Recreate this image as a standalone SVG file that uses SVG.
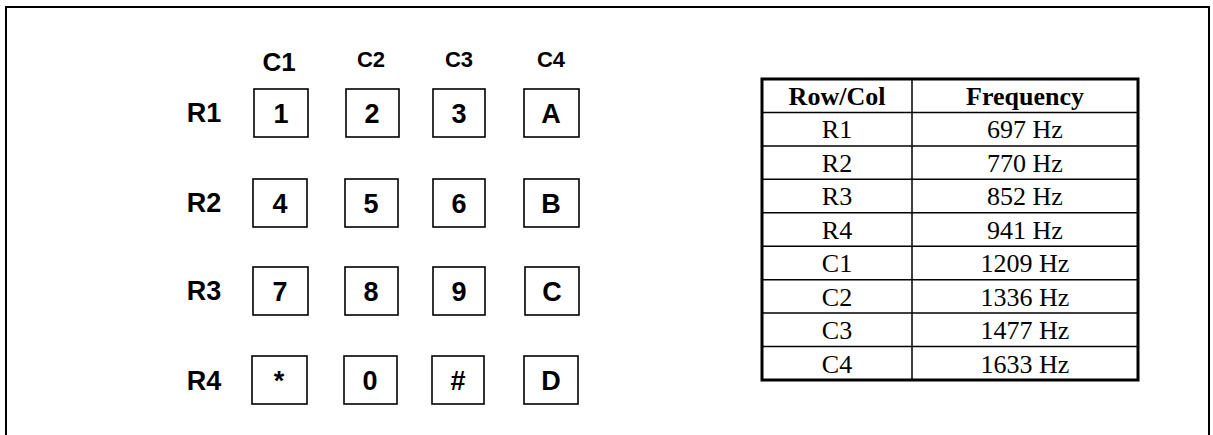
<svg xmlns="http://www.w3.org/2000/svg" width="1213" height="435" viewBox="0 0 1213 435">
<style>
.key rect{fill:#fff;stroke:#000;stroke-width:1.6}
.key text,.lbl{font-family:"Liberation Sans",Arial,sans-serif;font-weight:bold;text-anchor:middle;fill:#000}
.key text{font-size:27px}
.rl{font-size:27px}
.c1{font-size:26px}
.cl{font-size:22px}
.tl{stroke:#000;stroke-width:1.5}
.tt{font-family:"Liberation Serif","Times New Roman",serif;font-size:26px;text-anchor:middle;fill:#000}
.th{font-weight:bold}
</style>
<rect x="6" y="7" width="1203" height="440" fill="#fff" stroke="#000" stroke-width="2"/>
<g id="col-labels">
<text class="lbl c1" x="279" y="71">C1</text>
<text class="lbl cl" x="371" y="67">C2</text>
<text class="lbl cl" x="459" y="67">C3</text>
<text class="lbl cl" x="551" y="67">C4</text>
</g>
<g id="row-labels">
<text class="lbl rl" x="204" y="122">R1</text>
<text class="lbl rl" x="204" y="212">R2</text>
<text class="lbl rl" x="204" y="300">R3</text>
<text class="lbl rl" x="204" y="390">R4</text>
</g>
<g id="key-1" class="key"><rect x="254" y="89" width="54" height="48"/><text x="281" y="123">1</text></g>
<g id="key-2" class="key"><rect x="346" y="89" width="53" height="48"/><text x="372" y="123">2</text></g>
<g id="key-3" class="key"><rect x="433" y="89" width="52" height="48"/><text x="459" y="123">3</text></g>
<g id="key-A" class="key"><rect x="524" y="89" width="55" height="48"/><text x="551" y="123">A</text></g>
<g id="key-4" class="key"><rect x="253" y="179" width="54" height="48"/><text x="280" y="213">4</text></g>
<g id="key-5" class="key"><rect x="345" y="179" width="53" height="48"/><text x="371" y="213">5</text></g>
<g id="key-6" class="key"><rect x="433" y="179" width="52" height="48"/><text x="459" y="213">6</text></g>
<g id="key-B" class="key"><rect x="524" y="179" width="55" height="48"/><text x="551" y="213">B</text></g>
<g id="key-7" class="key"><rect x="253" y="267" width="55" height="48"/><text x="280" y="301">7</text></g>
<g id="key-8" class="key"><rect x="345" y="267" width="53" height="48"/><text x="371" y="301">8</text></g>
<g id="key-9" class="key"><rect x="433" y="267" width="52" height="48"/><text x="459" y="301">9</text></g>
<g id="key-C" class="key"><rect x="525" y="267" width="54" height="48"/><text x="552" y="301">C</text></g>
<g id="key-star" class="key"><rect x="252" y="356" width="55" height="48"/><text x="279" y="390">*</text></g>
<g id="key-0" class="key"><rect x="344" y="356" width="53" height="48"/><text x="370" y="390">0</text></g>
<g id="key-hash" class="key"><rect x="432" y="356" width="52" height="48"/><text x="458" y="390">#</text></g>
<g id="key-D" class="key"><rect x="524" y="356" width="54" height="48"/><text x="551" y="390">D</text></g>
<g id="table">
<rect x="762" y="79" width="376" height="301" fill="#fff" stroke="#000" stroke-width="3"/>
<line class="tl" x1="912" y1="79" x2="912" y2="380"/>
<line class="tl" x1="762" y1="112.4" x2="1138" y2="112.4"/>
<line class="tl" x1="762" y1="145.9" x2="1138" y2="145.9"/>
<line class="tl" x1="762" y1="179.3" x2="1138" y2="179.3"/>
<line class="tl" x1="762" y1="212.8" x2="1138" y2="212.8"/>
<line class="tl" x1="762" y1="246.2" x2="1138" y2="246.2"/>
<line class="tl" x1="762" y1="279.7" x2="1138" y2="279.7"/>
<line class="tl" x1="762" y1="313.1" x2="1138" y2="313.1"/>
<line class="tl" x1="762" y1="346.6" x2="1138" y2="346.6"/>
<text class="tt th" x="837" y="105">Row/Col</text><text class="tt th" x="1025" y="105">Frequency</text>
<text class="tt" x="837" y="138">R1</text><text class="tt" x="1025" y="138">697 Hz</text>
<text class="tt" x="837" y="172">R2</text><text class="tt" x="1025" y="172">770 Hz</text>
<text class="tt" x="837" y="205">R3</text><text class="tt" x="1025" y="205">852 Hz</text>
<text class="tt" x="837" y="239">R4</text><text class="tt" x="1025" y="239">941 Hz</text>
<text class="tt" x="837" y="272">C1</text><text class="tt" x="1025" y="272">1209 Hz</text>
<text class="tt" x="837" y="306">C2</text><text class="tt" x="1025" y="306">1336 Hz</text>
<text class="tt" x="837" y="339">C3</text><text class="tt" x="1025" y="339">1477 Hz</text>
<text class="tt" x="837" y="373">C4</text><text class="tt" x="1025" y="373">1633 Hz</text>
</g>
</svg>
